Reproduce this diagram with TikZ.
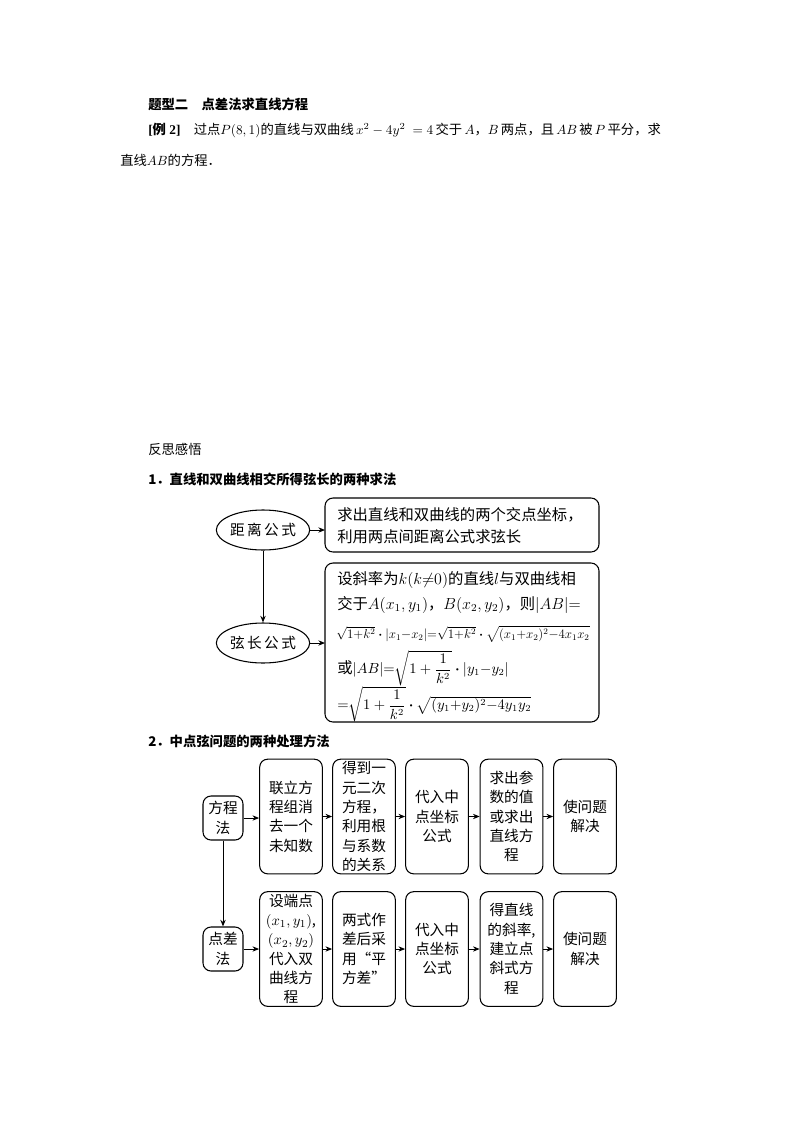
\documentclass[tikz,border=0pt]{standalone}
\usepackage{fontspec}
\usepackage{amsmath}
\setmainfont{Liberation Serif}
\newfontfamily\cjk{Noto Sans CJK SC}
\usetikzlibrary{arrows.meta,shapes.geometric}
\begin{document}
\begin{tikzpicture}[x=0.75pt,y=-0.75pt,
  txt/.style={anchor=west,inner sep=0pt,font=\fontsize{10}{12}\selectfont},
  bx/.style={draw,rounded corners=6pt,line width=0.8pt},
  el/.style={draw,ellipse,line width=0.8pt,minimum width=66pt,minimum height=30pt,inner sep=0pt,font=\cjk\fontsize{11}{14}\selectfont},
  arr/.style={-{Stealth[length=5pt,width=4pt]},line width=0.7pt},
  ftxt/.style={align=center,inner sep=0pt,font=\cjk\fontsize{11}{14.5}\selectfont},
  btxt/.style={anchor=west,inner sep=0pt,font=\fontsize{11.5}{14}\selectfont}]
\useasboundingbox (0,0) rectangle (794,1123);
\node[txt] (t1) at (148,104) {\cjk\bfseries 题型二\quad 点差法求直线方程};
\node[txt] (t2) at (148,130) {\textbf{[{\cjk 例} 2]}\quad{\cjk 过点}$P(8,1)${\cjk 的直线与双曲线}$\,x^2-4y^2\ =4\,${\cjk 交于}\,$A${\cjk ，}$B\,${\cjk 两点，且}\,$AB\,${\cjk 被}\,$P\,${\cjk 平分，求}};
\node[txt] (t3) at (120,160) {{\cjk 直线}$AB${\cjk 的方程．}};
\node[txt] (t4) at (148,449) {\cjk 反思感悟};
\node[txt] (t5) at (148,479) {\cjk\bfseries 1．直线和双曲线相交所得弦长的两种求法};
% part 1
\node[el] (e1) at (263,530) {距\,离\,公\,式};
\node[el] (e2) at (263,643) {弦\,长\,公\,式};
\draw[bx] (325,498) rectangle (599,552);
\draw[bx] (325,563) rectangle (599,722);
\coordinate (b1w) at (325,530);
\coordinate (b2w) at (325,643);
\draw[arr] (e1) -- (b1w);
\draw[arr] (e2) -- (b2w);
\draw[arr] (e1) -- (e2);
\node[btxt] (l1) at (337,515) {\cjk 求出直线和双曲线的两个交点坐标，};
\node[btxt] (l2) at (337,537) {\cjk 利用两点间距离公式求弦长};
\node[btxt] (m1) at (337,580) {{\cjk 设斜率为}$k(k{\neq}0)${\cjk 的直线}$l${\cjk 与双曲线相}};
\node[btxt] (m2) at (337,605) {{\cjk 交于}$A(x_1,y_1)${\cjk ，}$B(x_2,y_2)${\cjk ，则}$|AB|{=}$};
\node[btxt] (m3) at (336,634) {\resizebox{190pt}{!}{$\sqrt{1{+}k^2}\boldsymbol{\cdot}|x_1{-}x_2|{=}\sqrt{1{+}k^2}\boldsymbol{\cdot}\sqrt{(x_1{+}x_2)^2{-}4x_1x_2}$}};
\node[btxt,font=\fontsize{10.5}{12}\selectfont] (m4) at (337,668) {{\cjk\fontsize{11.5}{14}\selectfont 或}$|AB|{=}\sqrt{1+\dfrac{1}{k^2}}\boldsymbol{\cdot}|y_1{-}y_2|$};
\node[btxt,font=\fontsize{10.5}{12}\selectfont] (m5) at (337,704) {${=}\sqrt{1+\dfrac{1}{k^2}}\boldsymbol{\cdot}\sqrt{(y_1{+}y_2)^2{-}4y_1y_2}$};
% part 2
\node[txt] (t6) at (148,741) {\cjk\bfseries 2．中点弦问题的两种处理方法};
\node[bx,minimum width=30pt,minimum height=33pt,inner sep=0pt,ftxt] (f0) at (223,818) {方程\\法};
\node[bx,minimum width=30pt,minimum height=33pt,inner sep=0pt,ftxt] (g0) at (223,949) {点差\\法};
\draw[arr] (f0) -- (g0);
\def\bw{47pt}\def\bh{86pt}
\node[bx,minimum width=\bw,minimum height=\bh,ftxt] (f1) at (291,816.5) {联立方\\程组消\\去一个\\未知数};
\node[bx,minimum width=\bw,minimum height=\bh,ftxt] (f2) at (364,816.5) {得到一\\元二次\\方程，\\利用根\\与系数\\的关系};
\node[bx,minimum width=\bw,minimum height=\bh,ftxt] (f3) at (437,816.5) {代入中\\点坐标\\公式};
\node[bx,minimum width=\bw,minimum height=\bh,ftxt] (f4) at (511.5,816.5) {求出参\\数的值\\或求出\\直线方\\程};
\node[bx,minimum width=\bw,minimum height=\bh,ftxt] (f5) at (585,816.5) {使问题\\解决};
\node[bx,minimum width=\bw,minimum height=\bh,ftxt] (g1) at (291,949) {设端点\\$(x_1,y_1)$,\\$(x_2,y_2)$\\代入双\\曲线方\\程};
\node[bx,minimum width=\bw,minimum height=\bh,ftxt] (g2) at (364,949) {两式作\\差后采\\用“平\\方差”};
\node[bx,minimum width=\bw,minimum height=\bh,ftxt] (g3) at (437,949) {代入中\\点坐标\\公式};
\node[bx,minimum width=\bw,minimum height=\bh,ftxt] (g4) at (511.5,949) {得直线\\的斜率,\\建立点\\斜式方\\程};
\node[bx,minimum width=\bw,minimum height=\bh,ftxt] (g5) at (585,949) {使问题\\解决};
\foreach \a/\b in {f0/f1,f1/f2,f2/f3,f3/f4,f4/f5,g0/g1,g1/g2,g2/g3,g3/g4,g4/g5}
  \draw[arr] (\a.east) -- (\b.west |- \a.east);
\end{tikzpicture}
\end{document}
